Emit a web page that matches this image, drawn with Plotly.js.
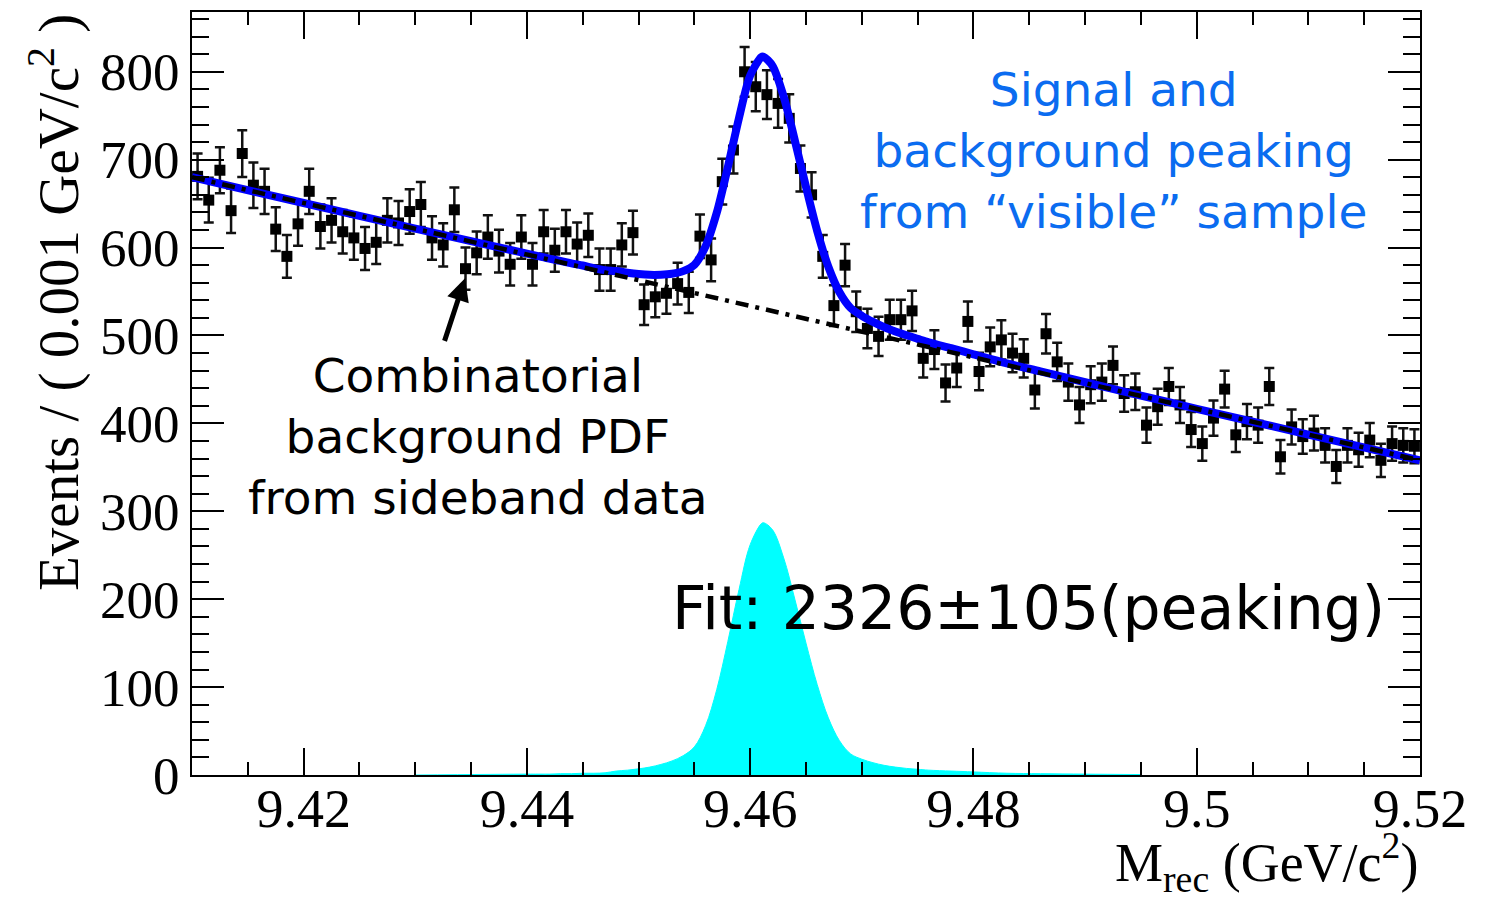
<!DOCTYPE html>
<html>
<head>
<meta charset="utf-8">
<script src="https://cdn.plot.ly/plotly-3.0.1.min.js"></script>
<style>html,body{margin:0;padding:0;background:#fff;}</style>
</head>
<body>
<div id="chart" style="width:1493px;height:906px;"></div>
<script>
// Histogram binning (0.001 GeV/c^2 bins from 9.41 to 9.52)
const binStart = 9.41;
const binWidth = 0.001;

// Events per bin
const events = [
  681, 654, 688, 642, 707, 671, 664, 621, 590, 627,
  664, 624, 631, 618, 611, 599, 606, 631, 628, 641,
  649, 611, 603, 643, 576, 594, 612, 596, 581, 612,
  581, 618, 597, 618, 604, 614, 575, 575, 603, 617,
  535, 544, 548, 559, 549, 613, 586, 675, 711, 800,
  783, 774, 764, 747, 690, 660, 590, 534, 580, 527,
  508, 499, 518, 518, 528, 474, 484, 446, 463, 516,
  459, 487, 495, 480, 474, 438, 502, 470, 447, 421,
  444, 447, 466, 434, 436, 398, 419, 442, 421, 393,
  377, 406, 439, 387, 402, 398, 442, 362, 396, 385,
  389, 375, 351, 375, 370, 381, 358, 377, 375, 374
];
const binCenters = events.map((_, i) => +(binStart + (i + 0.5) * binWidth).toFixed(4));

// Combinatorial background PDF (dash-dot), read at its end points
const bgX = [9.41, 9.52];
const bgY = [680, 358];

// Total fit curve (blue)
const fitX = [9.41, 9.42, 9.43, 9.44, 9.441, 9.442, 9.443, 9.444, 9.445, 9.446, 9.447, 9.448, 9.449,
  9.450, 9.451, 9.452, 9.453, 9.454, 9.455, 9.456, 9.457, 9.458, 9.459, 9.460, 9.461, 9.4612,
  9.462, 9.463, 9.464, 9.465, 9.466, 9.467, 9.468, 9.469, 9.470, 9.471, 9.472, 9.473, 9.474,
  9.475, 9.476, 9.478, 9.480, 9.483, 9.486, 9.490, 9.495, 9.500, 9.510, 9.520];
const fitY = [680, 650.7, 621.5, 593.2, 590.3, 587.4, 584.9, 582, 579.6, 576.6, 574.2, 573.3, 571.4,
  569.9, 569, 569.1, 570.2, 573.2, 580.3, 601.4, 639.4, 691.5, 747.6, 795.7, 816.7, 817.1,
  806.8, 771.9, 721.9, 669, 619.1, 578.2, 549.2, 531.3, 522.4, 515.5, 509.5, 504.6, 500.2,
  496.2, 492.3, 485.5, 478.6, 468.3, 459.1, 446.8, 431.7, 416.6, 387.3, 358];

// Peaking component (cyan)
const peakX = [9.430, 9.440, 9.441, 9.442, 9.443, 9.444, 9.445, 9.446, 9.447, 9.448, 9.449,
  9.450, 9.451, 9.452, 9.453, 9.454, 9.455, 9.456, 9.457, 9.458, 9.459, 9.460, 9.461, 9.4612,
  9.462, 9.463, 9.464, 9.465, 9.466, 9.467, 9.468, 9.469, 9.470, 9.471, 9.472, 9.473, 9.474,
  9.475, 9.476, 9.478, 9.480, 9.483, 9.486, 9.490, 9.495];
const peakY = [0, 1, 1, 1, 1.5, 1.5, 2, 2, 2.5, 4.5, 5.5,
  7, 9, 12, 16, 22, 32, 56, 97, 152, 211, 262, 286, 287,
  279, 247, 200, 150, 103, 65, 39, 24, 18, 14, 11, 9, 7.5,
  6.5, 5.5, 4.5, 3.5, 2, 1.5, 1, 0.5];

// Text
const yTitle = 'Events / ( 0.001 GeV/c<sup>2</sup> )';
const xTitle = 'M<sub>rec</sub> (GeV/c<sup>2</sup>)';
const blueNote = 'Signal and<br>background peaking<br>from \u201cvisible\u201d sample';
const blackNote = 'Combinatorial<br>background PDF<br>from sideband data';
const fitNote = 'Fit: 2326\u00b1105(peaking)';

const traces = [
  {x: peakX, y: peakY, type: 'scatter', mode: 'lines', fill: 'tozeroy',
   fillcolor: '#00FFFF', line: {color: '#00FFFF', width: 1, shape: 'spline'}, hoverinfo: 'skip'},
  {x: binCenters, y: events, type: 'scatter', mode: 'markers',
   marker: {symbol: 'square', size: 11, color: 'black'},
   error_y: {type: 'sqrt', color: '#111', thickness: 2.5, width: 5}},
  {x: fitX, y: fitY, type: 'scatter', mode: 'lines',
   line: {color: '#0000FF', width: 8, shape: 'spline', smoothing: 0.8}},
  {x: bgX, y: bgY, type: 'scatter', mode: 'lines',
   line: {color: 'black', width: 4.5, dash: '13px,7px,4px,7px'}}
];

const serif = 'Liberation Serif, Times New Roman, serif';
const sans = 'DejaVu Sans, Verdana, sans-serif';

const layout = {
  width: 1493, height: 906,
  margin: {l: 192, r: 73, t: 12, b: 131},
  paper_bgcolor: 'white', plot_bgcolor: 'white',
  showlegend: false,
  xaxis: {
    range: [9.41, 9.52], tick0: 9.42, dtick: 0.02, tickformat: '.2~f',
    ticks: 'inside', ticklen: 27, tickwidth: 2, tickcolor: 'black',
    showline: true, linecolor: 'black', linewidth: 2, mirror: 'ticks',
    showgrid: false, zeroline: false, ticklabelstandoff: -15,
    tickfont: {family: serif, size: 54, color: 'black'},
    minor: {tick0: 9.41, dtick: 0.005, ticks: 'inside', ticklen: 13, tickwidth: 2, tickcolor: 'black', showgrid: false}
  },
  yaxis: {
    range: [0, 868], tick0: 0, dtick: 100,
    ticks: 'inside', ticklen: 32, tickwidth: 2, tickcolor: 'black',
    showline: true, linecolor: 'black', linewidth: 2, mirror: 'ticks',
    showgrid: false, zeroline: false,
    tickfont: {family: serif, size: 53, color: 'black'},
    minor: {tick0: 0, dtick: 20, ticks: 'inside', ticklen: 17, tickwidth: 2, tickcolor: 'black', showgrid: false}
  },
  annotations: [
    {text: yTitle, xref: 'paper', yref: 'paper', x: -0.112, y: 1.0, xanchor: 'center', yanchor: 'top',
     textangle: -90, showarrow: false, font: {family: serif, size: 57, color: 'black'}},
    {text: xTitle, xref: 'paper', yref: 'paper', x: 1.0, y: -0.1665, xanchor: 'right', yanchor: 'bottom',
     showarrow: false, font: {family: serif, size: 54, color: 'black'}},
    {text: blueNote, xref: 'paper', yref: 'paper', x: 0.75, y: 0.818, xanchor: 'center', yanchor: 'middle',
     showarrow: false, align: 'center', font: {family: sans, size: 47, color: '#0B6CF0'}},
    {text: blackNote, xref: 'paper', yref: 'paper', x: 0.233, y: 0.443, xanchor: 'center', yanchor: 'middle',
     showarrow: false, align: 'center', font: {family: sans, size: 47, color: 'black'}},
    {text: '', x: 9.43446, y: 565, xref: 'x', yref: 'y', showarrow: true, ax: -21, ay: 64,
     arrowhead: 2, arrowsize: 0.9, arrowwidth: 5, arrowcolor: 'black', standoff: 0},
    {text: fitNote, xref: 'paper', yref: 'paper', x: 0.389, y: 0.219, xanchor: 'left', yanchor: 'middle',
     showarrow: false, font: {family: sans, size: 60, color: 'black'}}
  ]
};

Plotly.newPlot('chart', traces, layout, {displayModeBar: false, staticPlot: true});
</script>
</body>
</html>
